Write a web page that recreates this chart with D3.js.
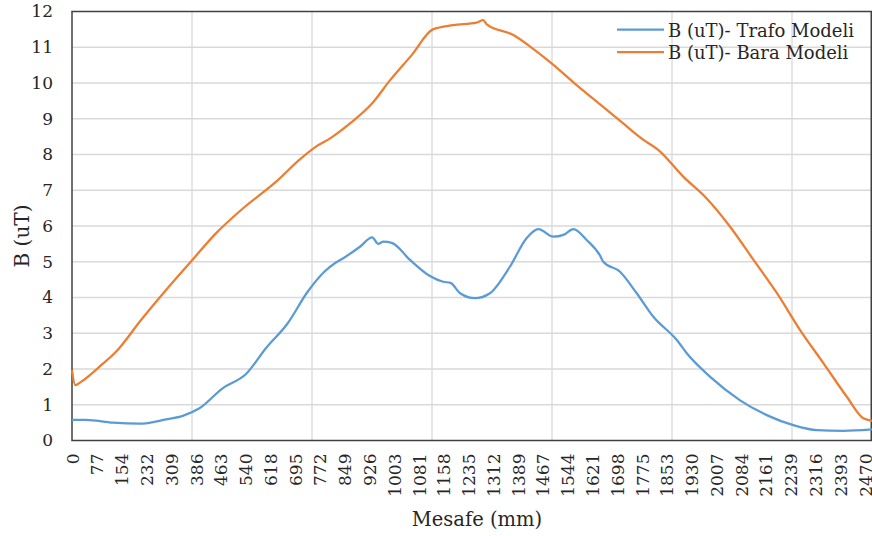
<!DOCTYPE html>
<html>
<head>
<meta charset="utf-8">
<script src="https://cdn.jsdelivr.net/npm/d3@7"></script>
<style>
  html, body { margin: 0; padding: 0; background: #fff; }
  svg { display: block; }
</style>
</head>
<body>
<svg id="chart" width="872" height="536"></svg>
<script>
// ---- data ----
const xTickLabels = ["0","77","154","232","309","386","463","540","618","695","772","849","926","1003","1081","1158","1235","1312","1389","1467","1544","1621","1698","1775","1853","1930","2007","2084","2161","2239","2316","2393","2470"];
const yTicks = [0,1,2,3,4,5,6,7,8,9,10,11,12];

const trafoX = [0,43,127,210,293,345,397,469,542,604,672,734,786,822,845,897,935,954,970,996,1053,1115,1156,1179,1209,1255,1302,1364,1416,1453,1499,1531,1562,1603,1645,1655,1707,1759,1811,1884,1915,1988,2080,2164,2247,2320,2402,2492];
const trafoB = [0.58,0.58,0.50,0.47,0.59,0.69,0.90,1.46,1.86,2.58,3.28,4.16,4.72,4.98,5.10,5.42,5.68,5.50,5.56,5.53,5.05,4.60,4.44,4.41,4.12,3.98,4.12,4.86,5.66,5.91,5.70,5.75,5.91,5.61,5.17,5.00,4.72,4.12,3.46,2.81,2.44,1.78,1.13,0.71,0.43,0.29,0.27,0.31];

const baraX = [0,10,28,85,137,215,293,370,449,532,636,708,760,804,866,933,991,1058,1124,1187,1260,1281,1291,1375,1427,1494,1572,1645,1717,1780,1826,1904,1977,2050,2123,2196,2268,2341,2413,2465,2492];
const baraB = [1.97,1.55,1.64,2.06,2.48,3.37,4.21,5.00,5.80,6.49,7.24,7.85,8.22,8.45,8.87,9.41,10.08,10.78,11.50,11.62,11.69,11.76,11.65,11.34,11.02,10.55,9.94,9.40,8.87,8.41,8.13,7.38,6.77,5.98,5.05,4.12,3.09,2.16,1.23,0.62,0.55];

const seriesNames = ["B (uT)- Trafo Modeli", "B (uT)- Bara Modeli"];
const seriesColors = ["#5B9BD5", "#ED7D31"];
const xMax = 2492;
const lastLabelValue = 2470;
const gridStep = 373.8;

// ---- layout ----
const svg = d3.select("#chart");
const m = { left: 72, right: 872, top: 11.5, bottom: 440.5 };
const FONT = "DejaVu Serif";
const textColor = "#262626";

const x = d3.scaleLinear().domain([0, xMax]).range([m.left, m.right]);
const y = d3.scaleLinear().domain([0, 12]).range([m.bottom, m.top]);

// gridlines
const grid = svg.append("g");
grid.selectAll("line.h").data(yTicks.filter(d => d > 0 && d < 12)).enter().append("line")
  .attr("x1", m.left).attr("x2", m.right)
  .attr("y1", d => y(d)).attr("y2", d => y(d))
  .attr("stroke", "#D9D9D9").attr("stroke-width", 1.3);
const vGrid = d3.range(1, 7).map(i => i * gridStep);
grid.selectAll("line.v").data(vGrid).enter().append("line")
  .attr("x1", d => x(d)).attr("x2", d => x(d))
  .attr("y1", m.top).attr("y2", m.bottom)
  .attr("stroke", "#D9D9D9").attr("stroke-width", 1.3);

// frame
svg.append("rect")
  .attr("x", m.left).attr("y", m.top)
  .attr("width", m.right - m.left - 0.75).attr("height", m.bottom - m.top)
  .attr("fill", "none").attr("stroke", "#404040").attr("stroke-width", 1.5);

// y axis
const yAxis = d3.axisLeft(y).tickValues(yTicks).tickSize(0).tickPadding(19).tickFormat(d3.format("d"));
const gy = svg.append("g").attr("transform", `translate(${m.left},0)`).call(yAxis);
gy.attr("font-family", FONT).attr("font-size", 17);
gy.select(".domain").remove();
gy.selectAll("text").attr("fill", textColor);

// x axis (category labels evenly spaced)
const xTickPos = xTickLabels.map((d, i) => i * lastLabelValue / (xTickLabels.length - 1));
const xAxis = d3.axisBottom(x).tickValues(xTickPos).tickSize(0)
  .tickFormat((d, i) => xTickLabels[i]);
const gx = svg.append("g").attr("transform", `translate(0,${m.bottom})`).call(xAxis);
gx.attr("font-family", FONT).attr("font-size", 17);
gx.select(".domain").remove();
gx.selectAll("text")
  .attr("fill", textColor)
  .attr("transform", "rotate(-90)")
  .attr("x", -13).attr("y", 0).attr("dy", "0.36em")
  .attr("text-anchor", "end");

// lines
const line = d3.line().x(d => x(d[0])).y(d => y(d[1])).curve(d3.curveMonotoneX);
const seriesData = [
  d3.zip(trafoX, trafoB),
  d3.zip(baraX, baraB)
];
seriesData.forEach((s, i) => {
  svg.append("path").datum(s)
    .attr("d", line)
    .attr("fill", "none")
    .attr("stroke", seriesColors[i])
    .attr("stroke-width", 2.25)
    .attr("stroke-linejoin", "round");
});

// legend
const legend = svg.append("g").attr("font-family", FONT);
seriesNames.forEach((name, i) => {
  const ly = 29.5 + i * 22.5;
  legend.append("line")
    .attr("x1", 617).attr("x2", 664).attr("y1", ly).attr("y2", ly)
    .attr("stroke", seriesColors[i]).attr("stroke-width", 2.25);
  legend.append("text")
    .attr("x", 668).attr("y", ly + 7)
    .attr("font-size", 18).attr("fill", textColor)
    .text(name);
});

// axis titles
svg.append("text")
  .attr("transform", `translate(29,236) rotate(-90)`)
  .attr("text-anchor", "middle")
  .attr("font-family", FONT)
  .attr("font-size", 20).attr("fill", textColor)
  .text("B (uT)");
svg.append("text")
  .attr("x", 477).attr("y", 526)
  .attr("text-anchor", "middle")
  .attr("font-family", FONT)
  .attr("font-size", 19.5).attr("fill", textColor)
  .text("Mesafe (mm)");
</script>
</body>
</html>
